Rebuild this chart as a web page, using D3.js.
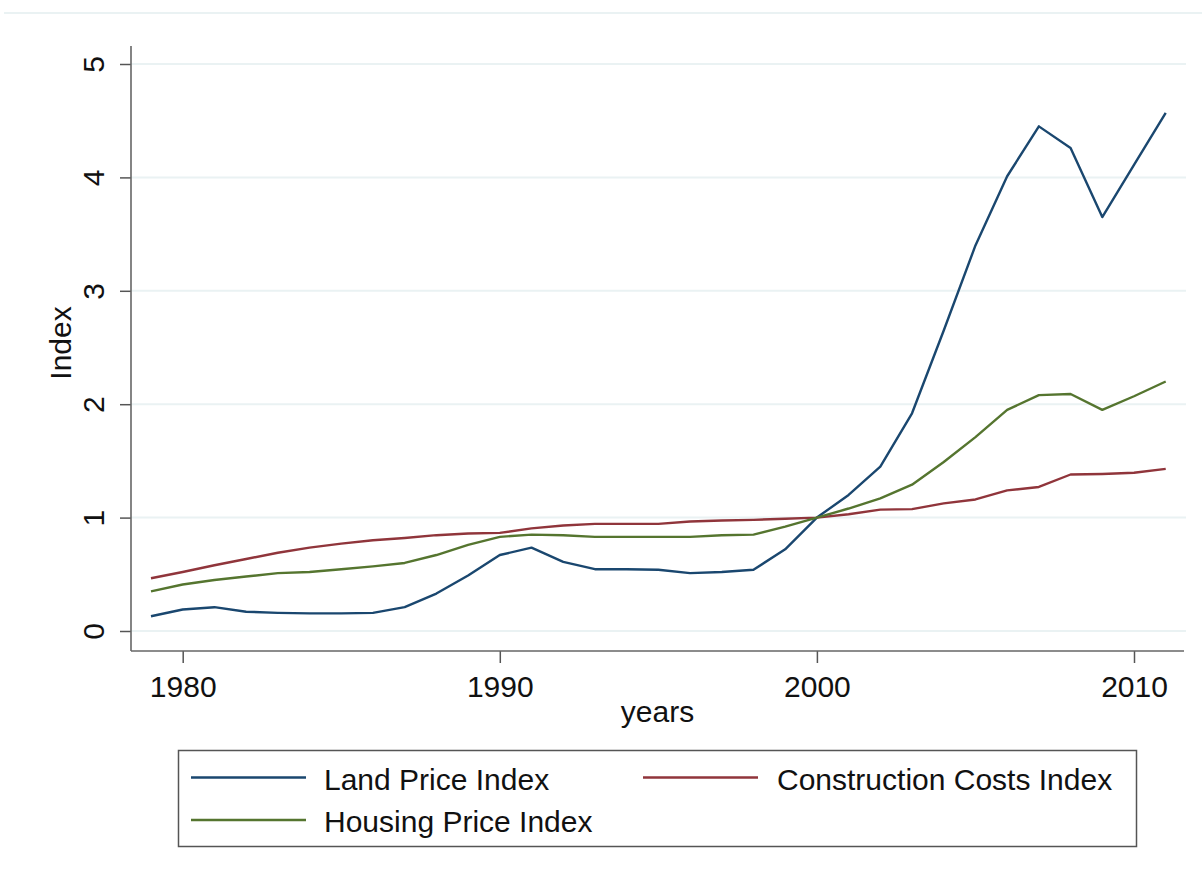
<!DOCTYPE html>
<html>
<head>
<meta charset="utf-8">
<script src="https://cdn.jsdelivr.net/npm/d3@7"></script>
<style>
  body { margin: 0; background: #fff; }
  text { font-family: "Liberation Sans", Arial, sans-serif; fill: #111; }
</style>
</head>
<body>
<div id="chart"></div>
<script>
let width = 1202;
let height = 879;

let years = d3.range(1979, 2012);
let landPrice = [0.13, 0.19, 0.21, 0.17, 0.16, 0.155, 0.155, 0.16, 0.21, 0.33, 0.49, 0.67, 0.735,
	0.61, 0.545, 0.545, 0.54, 0.51, 0.52, 0.54, 0.72, 1.0, 1.2, 1.45, 1.92, 2.65, 3.40, 4.01,
	4.45, 4.26, 3.65, 4.11, 4.57];
let constructionCosts = [0.465, 0.52, 0.58, 0.635, 0.69, 0.735, 0.77, 0.80, 0.82, 0.845, 0.86,
	0.865, 0.905, 0.93, 0.945, 0.945, 0.945, 0.965, 0.975, 0.98, 0.99, 1.0, 1.03, 1.07, 1.075,
	1.125, 1.16, 1.24, 1.27, 1.38, 1.385, 1.395, 1.43];
let housingPrice = [0.35, 0.41, 0.45, 0.48, 0.51, 0.52, 0.545, 0.57, 0.60, 0.67, 0.76, 0.83,
	0.85, 0.845, 0.83, 0.83, 0.83, 0.83, 0.845, 0.85, 0.92, 1.0, 1.08, 1.17, 1.29, 1.49, 1.71,
	1.95, 2.08, 2.09, 1.95, 2.07, 2.20];
let xTicks = [1980, 1990, 2000, 2010];
let yTicks = [0, 1, 2, 3, 4, 5];

let series = [
	{ name: "Land Price Index", values: landPrice, color: "#1a476f" },
	{ name: "Construction Costs Index", values: constructionCosts, color: "#90353b" },
	{ name: "Housing Price Index", values: housingPrice, color: "#55752f" }
];

let fontSize = "30px";

// plot region (stata-like)
let plot = { left: 131, right: 1184, top: 46, bottom: 651 };

let x = d3.scaleLinear().domain([1980, 2010]).range([182.7, 1134]);
let y = d3.scaleLinear().domain([0, 5]).range([631, 64]);

let svg = d3.select("#chart").append("svg")
	.attr("width", width)
	.attr("height", height);

// faint line at the top of the image
svg.append("line")
	.attr("x1", 4).attr("x2", width)
	.attr("y1", 13).attr("y2", 13)
	.attr("stroke", "#eaf2f3")
	.attr("stroke-width", 2);

// gridlines
svg.append("g").selectAll("line")
	.data(yTicks)
	.enter().append("line")
	.attr("x1", plot.left).attr("x2", plot.right + 2)
	.attr("y1", function(d){ return y(d); })
	.attr("y2", function(d){ return y(d); })
	.attr("stroke", "#eaf2f3")
	.attr("stroke-width", 2);

// y axis
let yAxis = svg.append("g")
	.attr("transform", "translate(" + plot.left + ",0)")
	.call(d3.axisLeft(y).tickValues(yTicks).tickSize(11).tickPadding(0).tickFormat(d3.format("d")));
yAxis.select(".domain").remove();
yAxis.selectAll(".tick line").attr("stroke", "#555").attr("stroke-width", 1.5);
yAxis.selectAll(".tick text")
	.attr("x", null).attr("dy", null)
	.attr("transform", "translate(-27.5,0) rotate(-90)")
	.attr("text-anchor", "middle")
	.style("font-size", fontSize)
	.style("fill", "#111");
yAxis.append("line")
	.attr("y1", plot.top).attr("y2", plot.bottom)
	.attr("stroke", "#666").attr("stroke-width", 1.6);

// x axis
let xAxis = svg.append("g")
	.attr("transform", "translate(0," + plot.bottom + ")")
	.call(d3.axisBottom(x).tickValues(xTicks).tickSize(12).tickPadding(0).tickFormat(d3.format("d")));
xAxis.select(".domain").remove();
xAxis.selectAll(".tick line").attr("stroke", "#555").attr("stroke-width", 1.5);
xAxis.selectAll(".tick text")
	.attr("y", 46).attr("dy", null)
	.style("font-size", fontSize)
	.style("fill", "#111");
xAxis.append("line")
	.attr("x1", plot.left).attr("x2", plot.right)
	.attr("stroke", "#666").attr("stroke-width", 1.6);

// axis titles
svg.append("text")
	.attr("x", (plot.left + plot.right) / 2)
	.attr("y", 722)
	.attr("text-anchor", "middle")
	.style("font-size", fontSize)
	.text("years");

svg.append("text")
	.attr("transform", "translate(71,343) rotate(-90)")
	.attr("text-anchor", "middle")
	.style("font-size", fontSize)
	.text("Index");

// lines
let line = d3.line()
	.x(function(d, i){ return x(years[i]); })
	.y(function(d){ return y(d); });

svg.append("g").selectAll("path")
	.data(series)
	.enter().append("path")
	.attr("d", function(d){ return line(d.values); })
	.attr("fill", "none")
	.attr("stroke", function(d){ return d.color; })
	.attr("stroke-width", 2.4)
	.attr("stroke-linejoin", "round");

// legend
let legend = svg.append("g");
legend.append("rect")
	.attr("x", 178.5).attr("y", 750.5)
	.attr("width", 958).attr("height", 96)
	.attr("fill", "#fff")
	.attr("stroke", "#555")
	.attr("stroke-width", 1.5);

let legendPos = [
	{ lx: 191, tx: 324, ly: 777.5, ty: 790 },
	{ lx: 643, tx: 777, ly: 777.5, ty: 790 },
	{ lx: 191, tx: 324, ly: 820, ty: 832 }
];

let items = legend.selectAll(".item")
	.data(series)
	.enter().append("g")
	.attr("class", "item");
items.append("line")
	.attr("x1", function(d, i){ return legendPos[i].lx; })
	.attr("x2", function(d, i){ return legendPos[i].lx + 115; })
	.attr("y1", function(d, i){ return legendPos[i].ly; })
	.attr("y2", function(d, i){ return legendPos[i].ly; })
	.attr("stroke", function(d){ return d.color; })
	.attr("stroke-width", 2.4);
items.append("text")
	.attr("x", function(d, i){ return legendPos[i].tx; })
	.attr("y", function(d, i){ return legendPos[i].ty; })
	.style("font-size", fontSize)
	.text(function(d){ return d.name; });
</script>
</body>
</html>
